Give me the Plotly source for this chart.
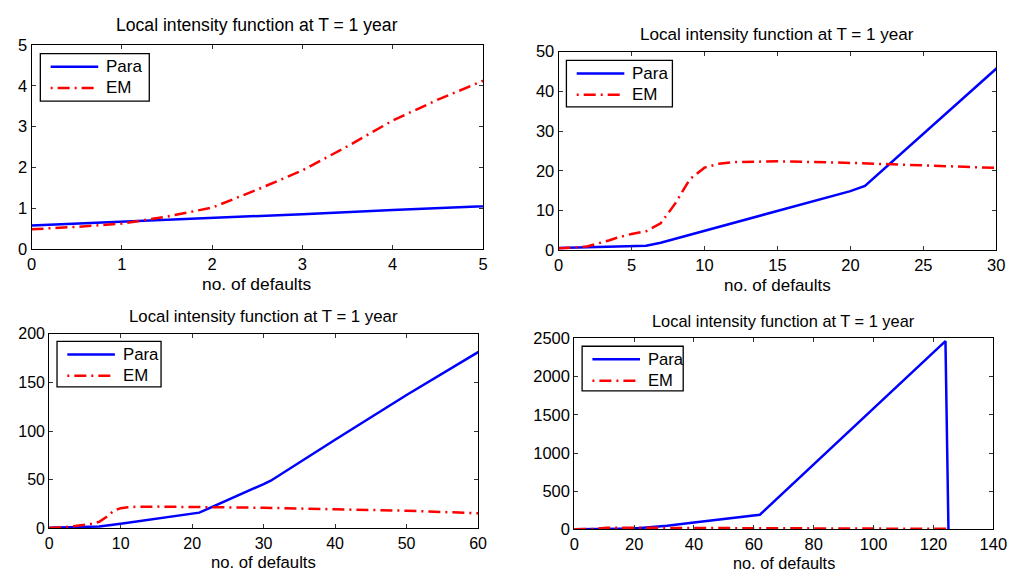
import plotly.graph_objects as go

W, H = 1026, 582

# ---- data (same functions shown at four zoom levels) ----
para_x = [0, 1, 2, 3, 4, 5, 6, 7, 10, 15, 20, 21, 30, 31, 40, 50, 60, 62, 124, 125]
para_y = [0.58, 0.67, 0.77, 0.86, 0.96, 1.05, 1.15, 1.9, 4.9, 9.9, 14.9, 16.2,
          45.5, 49, 91, 137, 181, 192, 2466, 0]

em_x = [0, 0.5, 1, 1.5, 2, 2.5, 3, 3.5, 4, 4.5, 5, 6, 7, 8, 9, 10, 11, 12, 15,
        20, 25, 30, 40, 50, 60, 80, 100, 125]
em_y = [0.49, 0.55, 0.63, 0.80, 1.02, 1.46, 1.93, 2.52, 3.15, 3.66, 4.12, 4.8,
        6.8, 11.8, 17.9, 20.8, 21.8, 22.2, 22.4, 22.0, 21.6, 21.2, 19.6, 18.2,
        15.6, 13, 10, 7]

x_ranges = [[0, 5], [0, 30], [0, 60], [0, 140]]
x_dticks = [1, 5, 10, 20]
y_ranges = [[0, 5], [0, 50], [0, 200], [0, 2500]]
y_dticks = [1, 10, 50, 500]

title_text = "Local intensity function at T = 1 year"
xlabel_text = "no. of defaults"
names = ["Para", "EM"]

# ---- layout geometry (pixels) ----
boxes = [  # left, right, top, bottom
    (27, 487, 37, 248),
    (564, 1010, 44, 249),
    (45, 482, 335, 536),
    (580, 1007, 340, 537),
]
legend_boxes = [  # left, top, right, bottom
    (36, 46, 147, 95),
    (572, 53, 680, 101),
    (53, 343, 159, 390),
    (588, 348, 691, 394),
]
title_y = [17, 26, 317, 322]
xlabel_y = [284, 285, 571, 572]
title_fs = [17.6, 17.1, 16.8, 16.4]
xlabel_fs = [17.4, 17.0, 16.7, 16.3]
tick_fs = [16.5, 16.5, 16, 16.5]
legend_fs = [17, 17, 16.8, 16.6]

FONT = "Liberation Sans, Arial, Helvetica, sans-serif"

BLUE = "#0000FF"
RED = "#FF0000"
LW = 2.5
EM_DASH = "12px,5px,2px,5px"

fig = go.Figure()
annotations = []
shapes = []


def px(x):
    return x / W


def py(y):
    return 1 - y / H


for i in range(4):
    sfx = "" if i == 0 else str(i + 1)
    fig.add_trace(go.Scatter(
        x=para_x, y=para_y, mode="lines", name=names[0], showlegend=False,
        line=dict(color=BLUE, width=LW),
        xaxis="x" + sfx, yaxis="y" + sfx))
    fig.add_trace(go.Scatter(
        x=em_x, y=em_y, mode="lines", name=names[1], showlegend=False,
        line=dict(color=RED, width=LW, dash=EM_DASH),
        xaxis="x" + sfx, yaxis="y" + sfx))

    l, r, t, b = boxes[i]
    axcommon = dict(showgrid=False, zeroline=False, showline=True,
                    linecolor="black", linewidth=1, mirror="ticks",
                    ticks="inside", ticklen=4, tickcolor="#333",
                    tickfont=dict(family=FONT, size=tick_fs[i], color="black"))
    fig.update_layout(**{
        "xaxis" + sfx: dict(domain=[px(l), px(r)], range=x_ranges[i],
                            dtick=x_dticks[i], tick0=0,
                            anchor="y" + sfx, **axcommon),
        "yaxis" + sfx: dict(domain=[py(b), py(t)], range=y_ranges[i],
                            dtick=y_dticks[i], tick0=0,
                            anchor="x" + sfx, **axcommon),
    })
    cx = px((l + r) / 2)
    annotations.append(dict(text=title_text, x=cx, y=py(title_y[i]),
                            xref="paper", yref="paper", showarrow=False,
                            xanchor="center", yanchor="middle",
                            font=dict(family=FONT, size=title_fs[i],
                                      color="black")))
    annotations.append(dict(text=xlabel_text, x=cx, y=py(xlabel_y[i]),
                            xref="paper", yref="paper", showarrow=False,
                            xanchor="center", yanchor="middle",
                            font=dict(family=FONT, size=xlabel_fs[i],
                                      color="black")))

    # legend box (drawn as layout decoration)
    bl, bt, br, bb = legend_boxes[i]
    shapes.append(dict(type="rect", xref="paper", yref="paper",
                       x0=px(bl), x1=px(br), y0=py(bb), y1=py(bt),
                       line=dict(color="black", width=1.3), fillcolor="white",
                       layer="above"))
    row1 = bt + 13.5
    row2 = bt + 35.5
    lx0, lx1 = bl + 10.5, bl + 59
    shapes.append(dict(type="line", xref="paper", yref="paper",
                       x0=px(lx0), x1=px(lx1), y0=py(row1), y1=py(row1),
                       line=dict(color=BLUE, width=LW), layer="above"))
    shapes.append(dict(type="line", xref="paper", yref="paper",
                       x0=px(lx0), x1=px(lx1), y0=py(row2), y1=py(row2),
                       line=dict(color=RED, width=LW, dash="2px,5px,12px,5px"),
                       layer="above"))
    for nm, ry in zip(names, [row1, row2]):
        annotations.append(dict(text=nm, x=px(bl + 65), y=py(ry),
                                xref="paper", yref="paper", showarrow=False,
                                xanchor="left", yanchor="middle",
                                font=dict(family=FONT, size=legend_fs[i],
                                          color="black")))

fig.update_layout(width=W, height=H, margin=dict(l=0, r=0, t=0, b=0),
                  paper_bgcolor="white", plot_bgcolor="white",
                  showlegend=False, annotations=annotations, shapes=shapes)

fig.write_html(
    "out.html",
    post_script=("document.body.style.margin='0';"
                 "document.body.style.padding='0';"
                 "document.documentElement.style.overflow='hidden';"),
)
